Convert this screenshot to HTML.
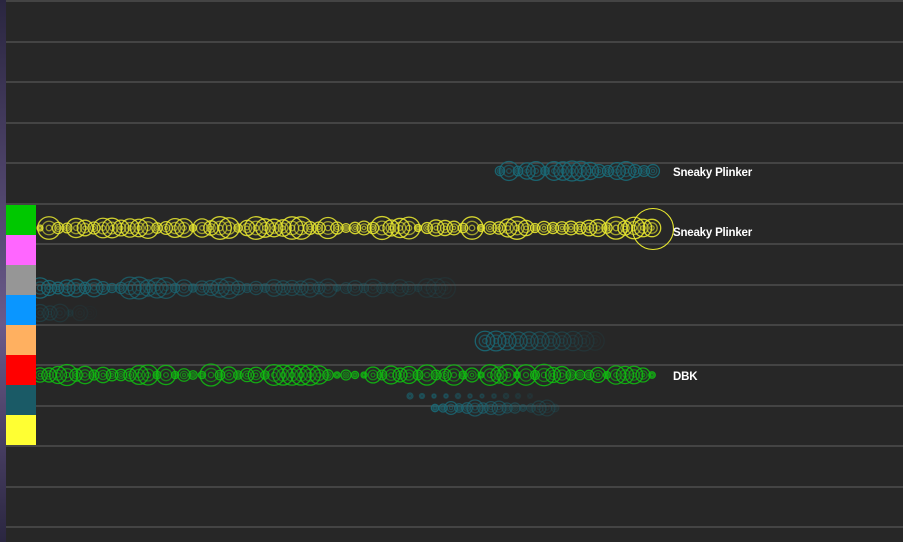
<!DOCTYPE html>
<html><head><meta charset="utf-8"><style>
html,body{margin:0;padding:0;background:#272727;width:903px;height:542px;overflow:hidden}
svg{display:block}
text{font-family:"Liberation Sans",sans-serif;font-weight:bold;font-size:11.5px;fill:#fff;letter-spacing:-0.2px}
</style></head><body>
<svg id="s" width="903" height="542" xmlns="http://www.w3.org/2000/svg">
<defs><linearGradient id="lg" x1="0" y1="0" x2="0" y2="1"><stop offset="0" stop-color="#2a2640"/><stop offset="0.6" stop-color="#6a5a8a"/><stop offset="1" stop-color="#2a2640"/></linearGradient></defs>
<rect x="0" y="0" width="6" height="542" fill="url(#lg)"/>
<g id="lines" stroke="#565656" stroke-width="1.2"></g>
<g id="circ" fill="none"></g>
<rect x="6" y="205" width="30" height="30" fill="#00c800"/>
<rect x="6" y="235" width="30" height="30" fill="#ff66ff"/>
<rect x="6" y="265" width="30" height="30" fill="#969696"/>
<rect x="6" y="295" width="30" height="30" fill="#0a96ff"/>
<rect x="6" y="325" width="30" height="30" fill="#ffb060"/>
<rect x="6" y="355" width="30" height="30" fill="#ff0000"/>
<rect x="6" y="385" width="30" height="30" fill="#1a5a66"/>
<rect x="6" y="415" width="30" height="30" fill="#ffff33"/>
<circle cx="653" cy="229" r="20.5" fill="none" stroke="#e8e830" stroke-width="1.1"/>
<text x="673" y="176">Sneaky Plinker</text>
<text x="673" y="236">Sneaky Plinker</text>
<text x="673" y="380">DBK</text>
</svg>
<script>
var NS="http://www.w3.org/2000/svg";
var L=document.getElementById("lines");
[1,42,82,123,163,204,244,285,325,365,406,446,487,527].forEach(function(y){
 var l=document.createElementNS(NS,"line");l.setAttribute("x1",6);l.setAttribute("x2",903);l.setAttribute("y1",y);l.setAttribute("y2",y);L.appendChild(l);});
var C=document.getElementById("circ");
var seed=7;function rnd(){seed=(seed*16807)%2147483647;return seed/2147483647;}
function row(x0,x1,y,col,rmin,rmax,op0,op1,step){
 for(var x=x0;x<=x1;x+=step){
  var t=(x-x0)/Math.max(1,(x1-x0));var op=op0+(op1-op0)*t;
  var r=rmin+rnd()*(rmax-rmin);
  [1,0.6,0.25].forEach(function(f,k){
   var c=document.createElementNS(NS,"circle");
   c.setAttribute("cx",x);c.setAttribute("cy",y);c.setAttribute("r",Math.max(1.2,r*f));
   c.setAttribute("stroke",col);c.setAttribute("stroke-width",1.3);c.setAttribute("stroke-opacity",op*(k?0.7:1));
   C.appendChild(c);});
 }}
row(40,655,228,"#e8e830",3,12,0.85,0.9,9);
row(40,655,375,"#10c010",3,11,0.85,0.85,9);
row(500,655,171,"#1a6a78",4,10,0.9,0.9,9);
row(40,450,288,"#1a6a78",3,11,0.9,0.15,9);
row(40,95,313,"#1a5a66",3,9,0.4,0.05,10);
row(485,600,341,"#1a6a78",9,10,0.9,0.1,11);
row(435,560,408,"#1a6a78",3,8,0.9,0.2,8);
row(410,540,396,"#1a6a78",2,3,0.6,0.1,12);
</script>
</body></html>
